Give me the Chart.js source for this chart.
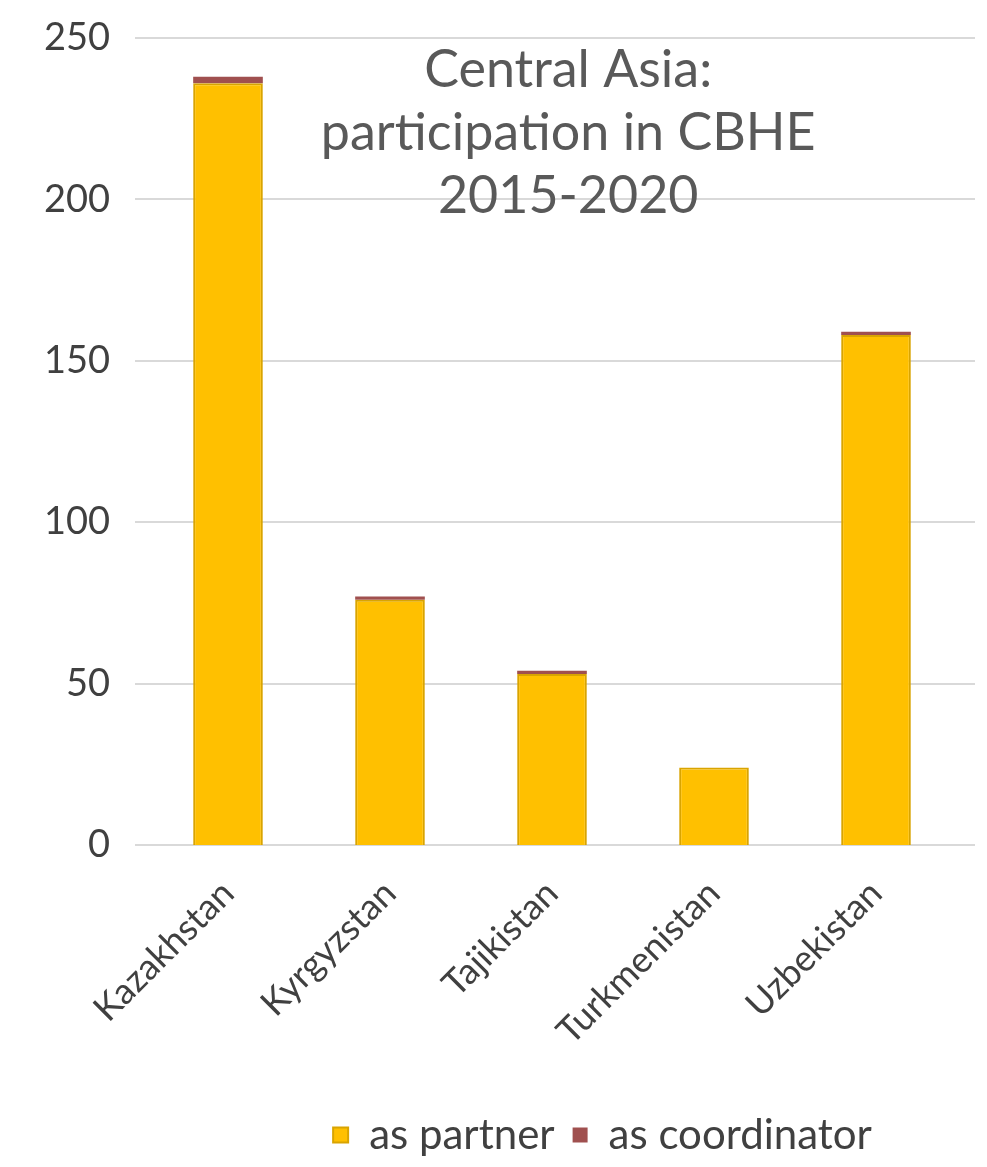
<!DOCTYPE html>
<html>
<head>
<meta charset="utf-8">
<script src="https://cdn.jsdelivr.net/npm/chart.js@4.4.0/dist/chart.umd.min.js"></script>
<style>
  html, body { margin: 0; padding: 0; background: #fff; }
  #wrap { width: 987px; height: 1167px; }
</style>
</head>
<body>
<div id="wrap"><canvas id="chart"></canvas></div>
<script>
// Central Asia participation in CBHE 2015-2020

const countries = ['Kazakhstan', 'Kyrgyzstan', 'Tajikistan', 'Turkmenistan', 'Uzbekistan'];
const asPartner = [236, 76, 53, 24, 158];
const asCoordinator = [2, 1, 1, 0, 1];
const yTicks = [0, 50, 100, 150, 200, 250];
const titleLines = ['Central Asia:', 'participation in CBHE', '2015-2020'];

const FONT = 'Lato, "Open Sans", sans-serif';

// horizontal grid lines run a bit past the bars on both sides (Excel look)
const wideGrid = {
    id: 'wideGrid',
    beforeDatasetsDraw(chart) {
        const { ctx, chartArea, scales } = chart;
        ctx.save();
        ctx.strokeStyle = '#D9D9D9';
        ctx.lineWidth = 2;
        yTicks.forEach(v => {
            const y = Math.round(scales.y.getPixelForValue(v));
            ctx.beginPath();
            ctx.moveTo(chartArea.left - 12, y);
            ctx.lineTo(chartArea.right + 18, y);
            ctx.stroke();
        });
        ctx.restore();
    }
};

// legend in the original sits right of centre
const shiftLegend = {
    id: 'shiftLegend',
    afterLayout(chart) {
        chart.legend.left += 124;
        chart.legend.right += 124;
    }
};

// title sits inside the plot
const overlayTitle = {
    id: 'overlayTitle',
    afterDraw(chart) {
        const { ctx, chartArea } = chart;
        ctx.save();
        ctx.fillStyle = '#595959';
        ctx.font = '52px ' + FONT;
        ctx.textAlign = 'center';
        ctx.textBaseline = 'middle';
        const cx = chartArea.left + (chartArea.right - chartArea.left) * 0.52;
        titleLines.forEach((line, i) => {
            ctx.fillText(line, cx, chartArea.top + 32 + i * 63);
        });
        ctx.restore();
    }
};

const ctx = document.getElementById('chart');

new Chart(ctx, {
    type: 'bar',
    data: {
        labels: countries,
        datasets: [
            {
                label: 'as partner',
                data: asPartner,
                backgroundColor: '#FFC000',
                borderColor: '#D9A400',
                borderWidth: 2,
                categoryPercentage: 1,
                barPercentage: 0.43
            },
            {
                label: 'as coordinator',
                data: asCoordinator,
                backgroundColor: '#A0504F',
                borderWidth: 0,
                categoryPercentage: 1,
                barPercentage: 0.43
            }
        ]
    },
    options: {
        responsive: true,
        maintainAspectRatio: false,
        animation: false,
        layout: { padding: { top: 38, right: 30, left: 0, bottom: 1 } },
        plugins: {
            legend: {
                position: 'bottom',
                labels: {
                    color: '#404040',
                    font: { size: 42, family: FONT },
                    boxWidth: 15,
                    boxHeight: 15,
                    padding: 18
                }
            },
            title: { display: false },
            tooltip: { enabled: false }
        },
        scales: {
            x: {
                stacked: true,
                grid: { display: false },
                border: { display: false },
                afterFit(axis) {
                    axis.height += 24;
                },
                ticks: {
                    color: '#404040',
                    font: { size: 36, family: FONT },
                    maxRotation: 45,
                    minRotation: 45,
                    padding: 19
                }
            },
            y: {
                stacked: true,
                min: 0,
                max: 250,
                afterBuildTicks(axis) {
                    axis.ticks = yTicks.map(v => ({ value: v }));
                },
                afterFit(axis) {
                    axis.width = 147;
                    axis.paddingTop = 0;
                },
                grid: { display: false },
                border: { display: false },
                ticks: {
                    color: '#404040',
                    font: { size: 38, family: FONT, lineHeight: 1 },
                    padding: 29
                }
            }
        }
    },
    plugins: [wideGrid, shiftLegend, overlayTitle]
});
</script>
</body>
</html>
